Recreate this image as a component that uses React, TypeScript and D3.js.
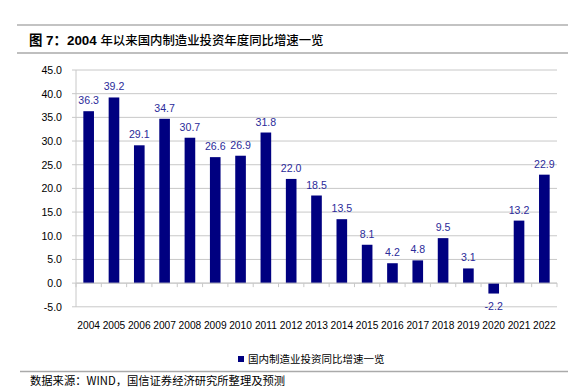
import React from "react";
import * as d3 from "d3";

const years = ["2004","2005","2006","2007","2008","2009","2010","2011","2012","2013","2014","2015","2016","2017","2018","2019","2020","2021","2022"];
const values = [36.3, 39.2, 29.1, 34.7, 30.7, 26.6, 26.9, 31.8, 22.0, 18.5, 13.5, 8.1, 4.2, 4.8, 9.5, 3.1, -2.2, 13.2, 22.9];
const yTicks = [-5, 0, 5, 10, 15, 20, 25, 30, 35, 40, 45];
const titleBold = "图 7：2004 ";
const titleRest = "年以来国内制造业投资年度同比增速一览";
const legendText = "国内制造业投资同比增速一览";
const sourceText = "数据来源：WIND，国信证券经济研究所整理及预测";

export default function App() {
  const W = 568, H = 388;
  const left = 76, right = 557, top = 70, bottom = 306.8;
  const x = d3.scaleBand<string>().domain(years).range([left, right]).paddingInner(0.58).paddingOuter(0.29);
  const xs = d3.scaleBand<string>().domain(years).range([left, right]);
  const y = d3.scaleLinear().domain([-5, 45]).range([bottom, top]);
  const sans = "'Liberation Sans', Arial, sans-serif";
  const cjk = "'Noto Sans CJK SC', sans-serif";
  return (
    <svg width={W} height={H} style={{ position: "absolute", left: 0, top: 0, background: "#fff" }}>
      <line x1={17} x2={568} y1={25} y2={25} stroke="#888" strokeWidth={1.2} />
      <line x1={17} x2={568} y1={53} y2={53} stroke="#aaa" strokeWidth={1.5} />
      <text x={29} y={45} fontSize={13.4} fontFamily={`'Liberation Sans', ${cjk}`} fill="#000">
        <tspan fontWeight="bold">{titleBold}</tspan>
        <tspan fontFamily={cjk} fontSize={12.4} fontWeight="500">{titleRest}</tspan>
      </text>
      {yTicks.map(t => (
        <g key={t}>
          <line x1={left} x2={right} y1={y(t)} y2={y(t)} stroke="#c8c8c8" strokeWidth={1} />
          <line x1={left - 4} x2={left} y1={y(t)} y2={y(t)} stroke="#c8c8c8" strokeWidth={1} />
          <text x={left - 14} y={y(t) + 4} fontSize={10.6} fontFamily={sans} textAnchor="end" fill="#000">{t.toFixed(1)}</text>
        </g>
      ))}
      <line x1={left} x2={left} y1={top} y2={bottom} stroke="#c8c8c8" strokeWidth={1} />
      {years.map((yr, i) => {
        const v = values[i];
        const bx = x(yr)!;
        const y0 = y(0), y1 = y(v);
        return (
          <g key={yr}>
            <rect x={bx} width={x.bandwidth()} y={Math.min(y0, y1)} height={Math.abs(y1 - y0)} fill="#000080" />
            <text x={bx + x.bandwidth() / 2} y={v >= 0 ? y1 - 7 : y1 + 16} fontSize={10.6} fontFamily={sans} textAnchor="middle" fill="#2b2b9a">{v.toFixed(1)}</text>
            <text x={xs(yr)! + xs.bandwidth() / 2} y={329} fontSize={10.2} fontFamily={sans} textAnchor="middle" fill="#000">{yr}</text>
          </g>
        );
      })}
      {years.concat(["end"]).map((yr, i) => {
        const xx = left + i * xs.step();
        return <line key={"t" + i} x1={xx} x2={xx} y1={y(0)} y2={y(0) + 4} stroke="#c8c8c8" strokeWidth={1} />;
      })}
      <line x1={left} x2={right} y1={y(0)} y2={y(0)} stroke="#c8c8c8" strokeWidth={1} />
      <rect x={238} y={356} width={6} height={6} fill="#000080" />
      <text x={248} y={363} fontSize={10.5} fontFamily={cjk} fill="#000">{legendText}</text>
      <line x1={20} x2={568} y1={371.5} y2={371.5} stroke="#aaa" strokeWidth={1.5} />
      <text x={30} y={385} fontSize={11.3} fontFamily={cjk} fill="#000">{sourceText}</text>
    </svg>
  );
}
